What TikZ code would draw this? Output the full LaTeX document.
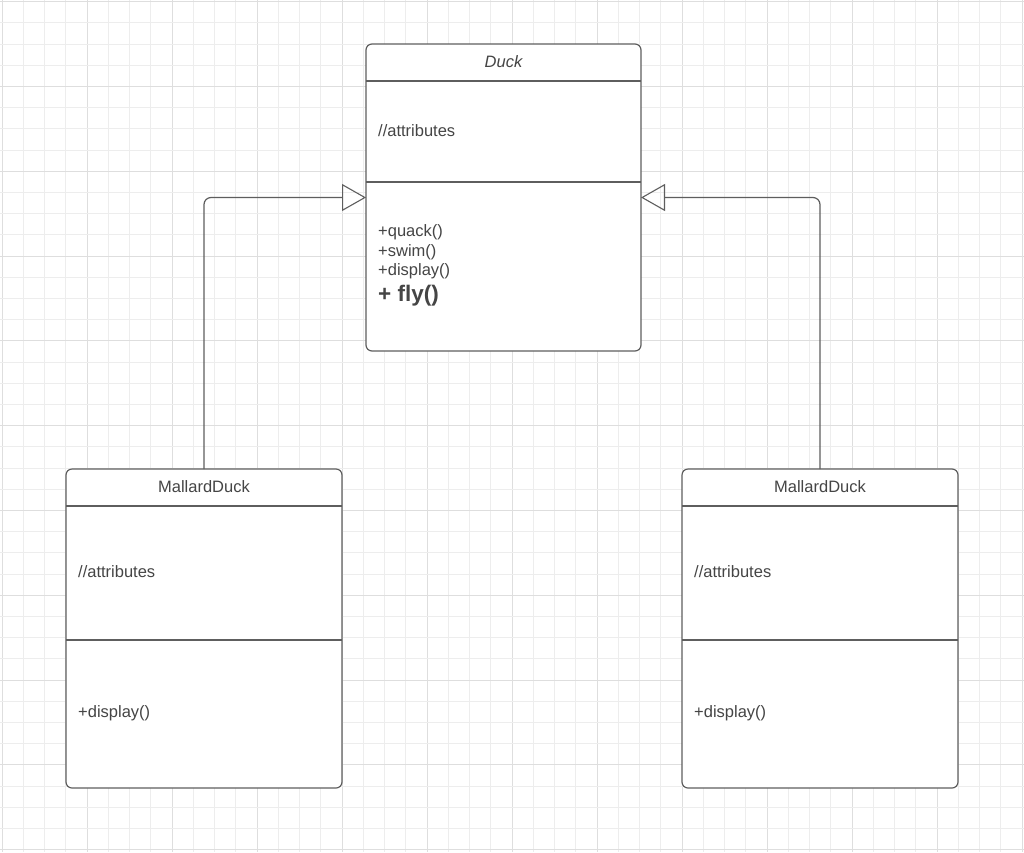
\documentclass[tikz,border=0pt]{standalone}
\usepackage{fontspec}
\setmainfont{Liberation Sans}
\usetikzlibrary{arrows.meta}
\definecolor{gridminor}{HTML}{EDEDED}
\definecolor{gridmajor}{HTML}{DEDEDE}
\definecolor{boxline}{HTML}{5E5E5E}
\definecolor{txt}{HTML}{454545}
\tikzset{
  classbox/.style={draw=boxline, line width=1.2pt, rounded corners=6pt, fill=white, rectangle, inner sep=0pt, outer sep=0pt},
  sepline/.style={draw=boxline, line width=1.1pt},
  lbl/.style={text=txt, inner sep=0pt, anchor=west, font=\fontsize{16.5}{19.6}\selectfont},
  ttl/.style={text=txt, inner sep=0pt, font=\fontsize{16.5}{19.6}\selectfont},
  inherit/.style={draw=boxline, line width=1.2pt, rounded corners=7pt, -{Triangle[open, length=24pt, width=27pt, line width=1.1pt]}}
}
\begin{document}
\begin{tikzpicture}[x=1pt, y=-1pt]
\useasboundingbox (0,0) rectangle (1024,852);
\fill[white] (0,0) rectangle (1024,852);
% grid
\foreach \i in {0,...,48}{
  \pgfmathsetmacro\xx{2+21.25*\i}
  \pgfmathtruncatemacro\m{mod(\i,4)}
  \ifnum\m=0
    \draw[gridmajor, line width=0.9pt] (\xx,0) -- (\xx,852);
  \else
    \draw[gridminor, line width=0.9pt] (\xx,0) -- (\xx,852);
  \fi
}
\foreach \i in {0,...,40}{
  \pgfmathsetmacro\yy{1.7+21.2*\i}
  \pgfmathtruncatemacro\m{mod(\i,4)}
  \ifnum\m=0
    \draw[gridmajor, line width=0.9pt] (0,\yy) -- (1024,\yy);
  \else
    \draw[gridminor, line width=0.9pt] (0,\yy) -- (1024,\yy);
  \fi
}
% Duck
\node[classbox, minimum width=275pt, minimum height=307pt] (duck) at (503.5,197.5) {};
\draw[sepline] (duck.west |- 0,81) -- (duck.east |- 0,81);
\draw[sepline] (duck.west |- 0,182) -- (duck.east |- 0,182);
\node[ttl, font=\fontsize{16.5}{19.6}\selectfont\itshape] (duckname) at (503.5,62) {Duck};
\node[lbl] (duckattr) at (378,131) {//attributes};
\node[lbl] (m1) at (378,232.5) {+quack()};
\node[lbl] (m2) at (378,252) {+swim()};
\node[lbl] (m3) at (378,271.5) {+display()};
\node[lbl, font=\fontsize{22.5}{26}\selectfont\bfseries] (m4) at (378,296) {+ fly()};
% Mallard left
\node[classbox, minimum width=276pt, minimum height=319pt] (mallL) at (204,628.5) {};
\draw[sepline] (mallL.west |- 0,506) -- (mallL.east |- 0,506);
\draw[sepline] (mallL.west |- 0,640) -- (mallL.east |- 0,640);
\node[ttl] (lname) at (204,487) {MallardDuck};
\node[lbl] (lattr) at (78,572) {//attributes};
\node[lbl] (lmeth) at (78,713.5) {+display()};
% Mallard right
\node[classbox, minimum width=276pt, minimum height=319pt] (mallR) at (820,628.5) {};
\draw[sepline] (mallR.west |- 0,506) -- (mallR.east |- 0,506);
\draw[sepline] (mallR.west |- 0,640) -- (mallR.east |- 0,640);
\node[ttl] (rname) at (820,487) {MallardDuck};
\node[lbl] (rattr) at (694,572) {//attributes};
\node[lbl] (rmeth) at (694,713.5) {+display()};
% inheritance
\draw[inherit] (mallL.north) |- (duck.west);
\draw[inherit] (mallR.north) |- (duck.east);
\end{tikzpicture}
\end{document}
